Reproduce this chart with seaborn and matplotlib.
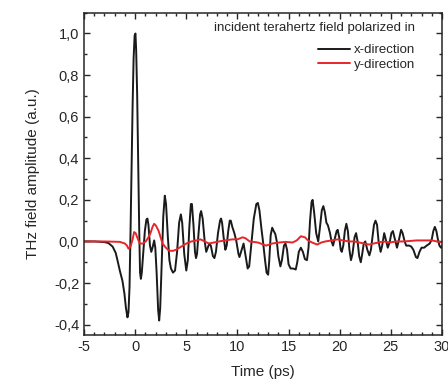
import numpy as np
import pandas as pd
import matplotlib
matplotlib.use("Agg")
import matplotlib.pyplot as plt
from matplotlib.ticker import FuncFormatter, MultipleLocator
import seaborn as sns

# ─────────────────────────────────────────────
# DATA
# ─────────────────────────────────────────────
time_x = [-5.0, -4.0, -3.0, -2.6, -2.2, -1.9, -1.73, -1.5, -1.24, -1.05, -0.9, -0.75,
          -0.65, -0.55, -0.45, -0.37, -0.25, -0.15, -0.05, 0.03, 0.1, 0.2, 0.3, 0.4,
          0.48, 0.56, 0.65, 0.8, 0.95, 1.1, 1.2, 1.3, 1.45, 1.58, 1.7, 1.86, 1.97,
          2.1, 2.25, 2.35, 2.45, 2.6, 2.75, 2.9, 3.02, 3.2, 3.35, 3.5, 3.7, 3.9,
          4.1, 4.3, 4.47, 4.6, 4.8, 5.0, 5.15, 5.3, 5.45, 5.55, 5.7, 5.85, 5.95,
          6.05, 6.2, 6.35, 6.45, 6.6, 6.8, 6.95, 7.1, 7.25, 7.4, 7.6, 7.75, 7.9,
          8.1, 8.3, 8.4, 8.5, 8.65, 8.82, 8.95, 9.1, 9.25, 9.35, 9.5, 9.7, 9.9,
          10.1, 10.2, 10.35, 10.6, 10.8, 11.0, 11.15, 11.35, 11.6, 11.85, 12.0,
          12.15, 12.35, 12.5, 12.7, 12.85, 13.0, 13.1, 13.25, 13.4, 13.55, 13.7,
          13.85, 14.0, 14.2, 14.35, 14.55, 14.7, 14.85, 15.0, 15.2, 15.45, 15.7,
          15.85, 16.0, 16.2, 16.4, 16.6, 16.8, 16.95, 17.1, 17.25, 17.35, 17.5,
          17.7, 17.9, 18.05, 18.25, 18.4, 18.55, 18.7, 18.85, 19.05, 19.2, 19.35,
          19.5, 19.7, 19.8, 19.95, 20.1, 20.2, 20.35, 20.5, 20.65, 20.8, 20.95,
          21.1, 21.25, 21.45, 21.6, 21.75, 21.9, 22.06, 22.2, 22.35, 22.5, 22.7,
          22.9, 23.05, 23.2, 23.35, 23.5, 23.65, 23.8, 24.0, 24.15, 24.35, 24.5,
          24.7, 24.9, 25.05, 25.2, 25.35, 25.6, 25.8, 26.0, 26.15, 26.35, 26.5,
          26.8, 27.0, 27.2, 27.45, 27.6, 27.8, 28.0, 28.25, 28.5, 28.8, 29.0,
          29.15, 29.3, 29.45, 29.6, 29.75, 29.9, 30.0]
amp_x = [0.0, 0.0, -0.003, -0.008, -0.025, -0.055, -0.09, -0.14, -0.19, -0.25, -0.32, -0.365,
         -0.34, -0.22, 0.05, 0.3, 0.65, 0.88, 0.99, 1.0, 0.92, 0.7, 0.38, 0.05,
         -0.15, -0.18, -0.15, -0.05, 0.05, 0.105, 0.11, 0.08, -0.02, -0.05, -0.03, 0.005, -0.03,
         -0.15, -0.33, -0.38, -0.32, -0.1, 0.12, 0.22, 0.18, 0.02, -0.09, -0.13, -0.15, -0.14,
         -0.05, 0.09, 0.13, 0.09, -0.06, -0.14, -0.09, 0.07, 0.18, 0.18, 0.08, -0.05, -0.08,
         -0.06, 0.04, 0.13, 0.146, 0.11, 0.0, -0.05, -0.03, -0.01, -0.02, -0.07, -0.08, -0.05,
         0.04, 0.10, 0.11, 0.09, 0.02, -0.04, -0.02, 0.05, 0.10, 0.10, 0.07, 0.04, 0.0,
         -0.06, -0.075, -0.05, -0.01, -0.07, -0.13, -0.12, -0.02, 0.11, 0.18, 0.185,
         0.15, 0.06, 0.0, -0.09, -0.15, -0.16, -0.1, 0.03, 0.066, 0.05, 0.036,
         0.0, -0.07, -0.12, -0.09, -0.02, -0.01, -0.04, -0.11, -0.13, -0.13, -0.135,
         -0.1, -0.05, -0.03, -0.05, -0.085, -0.09, -0.03, 0.1, 0.19, 0.2, 0.14,
         0.04, 0.0, 0.06, 0.15, 0.17, 0.14, 0.09, 0.077, 0.04, 0.0, -0.02,
         0.01, 0.05, 0.056, 0.02, -0.04, -0.05, -0.02, 0.05, 0.085, 0.05, -0.04,
         -0.09, -0.06, 0.02, 0.04, 0.0, -0.07, -0.1, -0.06, -0.01, 0.0, -0.04,
         -0.067, -0.04, 0.02, 0.08, 0.1, 0.08, 0.0, -0.05, -0.02, 0.04, 0.01,
         -0.03, 0.0, 0.04, 0.05, 0.02, -0.03, 0.01, 0.056, 0.04, 0.0, -0.02,
         -0.02, -0.025, -0.04, -0.075, -0.08, -0.05, -0.03, -0.03, -0.02, -0.01, 0.01,
         0.05, 0.07, 0.05, 0.01, -0.02, -0.03, -0.02]

time_y = [-5.0, -3.0, -1.5, -1.0, -0.8, -0.65, -0.45, -0.25, -0.1, 0.05, 0.2, 0.45,
          0.75, 1.04, 1.3, 1.5, 1.7, 1.86, 2.05, 2.3, 2.68, 3.0, 3.33, 3.7, 4.0,
          4.5, 5.0, 5.5, 6.0, 6.4, 6.8, 7.2, 7.7, 8.2, 8.8, 9.5, 10.0, 10.5, 10.8,
          11.2, 12.0, 12.8, 13.4, 14.1, 14.7, 15.4, 15.8, 16.2, 16.6, 16.9, 17.3,
          17.8, 18.2, 18.6, 19.2, 19.8, 20.3, 20.9, 21.4, 21.9, 22.4, 22.9, 23.3,
          23.8, 24.3, 24.9, 25.5, 26.2, 26.8, 27.5, 28.2, 29.0, 29.5, 30.0]
amp_y = [0.0, 0.0, -0.002, -0.01, -0.02, -0.035, -0.025, 0.01, 0.045, 0.04, 0.02, -0.01,
         -0.01, 0.0, 0.02, 0.04, 0.07, 0.085, 0.075, 0.05, -0.01, -0.03, -0.045, -0.045, -0.04,
         -0.025, -0.01, 0.0, 0.005, 0.01, 0.0, -0.01, -0.005, 0.0, 0.005, 0.01, 0.01, 0.02, 0.015,
         0.0, -0.005, -0.02, -0.01, -0.005, -0.002, -0.005, 0.005, 0.025, 0.02, 0.005, -0.005,
         -0.015, -0.005, 0.0, 0.005, 0.01, 0.005, 0.0, 0.0, -0.005, -0.01, -0.015, -0.01,
         -0.005, 0.0, -0.005, 0.0, 0.0, 0.002, 0.005, 0.005, 0.005, 0.0, -0.005]

series_labels = ["x-direction", "y-direction"]
series_colors = ["#1a1a1a", "#e8262a"]
legend_heading = "incident terahertz field polarized in"
y_ticks = [-0.4, -0.2, 0.0, 0.2, 0.4, 0.6, 0.8, 1.0]
x_ticks = [-5, 0, 5, 10, 15, 20, 25, 30]

# ─────────────────────────────────────────────
# PLOT
# ─────────────────────────────────────────────
sns.set_style("ticks")
plt.rcParams["font.family"] = ["Liberation Sans", "DejaVu Sans"]
plt.rcParams["axes.unicode_minus"] = False

df = pd.concat([
    pd.DataFrame({"time": time_x, "amp": amp_x, "pol": series_labels[0]}),
    pd.DataFrame({"time": time_y, "amp": amp_y, "pol": series_labels[1]}),
])

fig = plt.figure(figsize=(4.48, 3.79), dpi=100)
ax = fig.add_axes([0.1875, 0.116, 0.7991, 0.8505])

sns.lineplot(data=df, x="time", y="amp", hue="pol", hue_order=series_labels,
             palette=series_colors, sort=False, estimator=None, linewidth=1.4, ax=ax)

ax.set_xlim(-5, 30)
ax.set_ylim(-0.45, 1.1)
ax.set_xticks(x_ticks)
ax.set_yticks(y_ticks)
ax.xaxis.set_minor_locator(MultipleLocator(1))
ax.yaxis.set_minor_locator(MultipleLocator(0.1))
ax.yaxis.set_major_formatter(FuncFormatter(lambda v, p: f"{v:.1f}".replace(".", ",")))
ax.tick_params(which="both", direction="in", top=True, right=True, labelsize=10.5, width=1)
ax.tick_params(which="major", length=4)
ax.tick_params(which="minor", length=2.5)
for s in ax.spines.values():
    s.set_linewidth(1.1)

ax.set_xlabel("Time (ps)", fontsize=11, labelpad=8)
ax.set_ylabel("THz field amplitude (a.u.)", fontsize=11, labelpad=10)

ax.text(0.9246, 0.9525, legend_heading, transform=ax.transAxes,
        ha="right", va="center", fontsize=9.5)
ax.legend(loc="upper right", frameon=False, fontsize=9.5,
          handlelength=2.4, handletextpad=0.3, labelspacing=0.2,
          borderaxespad=0, borderpad=0, bbox_to_anchor=(0.9246, 0.903))

fig.savefig("out.png", dpi=100)
